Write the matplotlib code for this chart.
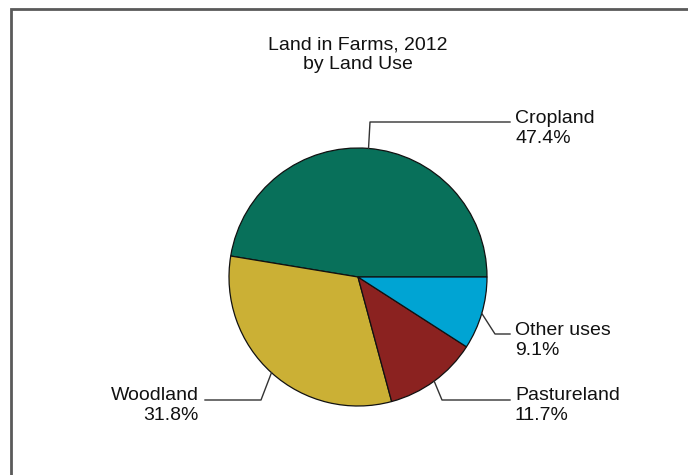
import matplotlib
matplotlib.use("Agg")
import matplotlib.pyplot as plt
import numpy as np

plt.rcParams['font.family'] = ['Liberation Sans', 'DejaVu Sans']

categories = ["Cropland", "Woodland", "Pastureland", "Other uses"]
shares = [47.4, 31.8, 11.7, 9.1]
colors = ["#08705A", "#CBB035", "#8B2220", "#00A4D3"]
title_lines = ["Land in Farms, 2012", "by Land Use"]

W, H = 688, 475
fig = plt.figure(figsize=(W / 100, H / 100), dpi=100)
ax = fig.add_axes([0, 0, 1, 1])

def Y(y):
    return H - y

cx, cy, r = 358, 277, 129
wedges, _ = ax.pie(shares, colors=colors, startangle=0, counterclock=True,
                   center=(cx, Y(cy)), radius=r,
                   wedgeprops=dict(edgecolor="#111111", linewidth=0.9))

ax.set_xlim(0, W)
ax.set_ylim(0, H)
ax.set_aspect('equal')
ax.axis('off')

# frame
ax.plot([11, 11, W + 5], [Y(H + 5), Y(8.5), Y(8.5)], color="#5a5a5a", lw=2.0,
        solid_joinstyle='miter', clip_on=False)

# title
fs = 14
ax.text(358, Y(50), title_lines[0], ha='center', va='baseline', fontsize=fs, color="#111111")
ax.text(358, Y(69), title_lines[1], ha='center', va='baseline', fontsize=fs, color="#111111")

# leader layout: elbow, end, text x, alignment, baselines
layout = {
    "Cropland": ((370, 122), (510, 122), 515, 'left', (123, 143)),
    "Woodland": ((261, 400), (205, 400), 199, 'right', (400, 420)),
    "Pastureland": ((442, 400), (510, 400), 515, 'left', (400, 420)),
    "Other uses": ((495, 334), (510, 334), 515, 'left', (335, 355)),
}

for w, cat, val in zip(wedges, categories, shares):
    mid = np.deg2rad((w.theta1 + w.theta2) / 2)
    ax_x = cx + r * np.cos(mid)
    ax_y = cy - r * np.sin(mid)
    (ex, ey), (tx, ty), lx, ha, (b1, b2) = layout[cat]
    ax.plot([ax_x, ex, tx], [Y(ax_y), Y(ey), Y(ty)], color="#333333", lw=1.0)
    ax.text(lx, Y(b1), cat, ha=ha, va='baseline', fontsize=fs, color="#111111")
    ax.text(lx, Y(b2), f"{val:.1f}%", ha=ha, va='baseline', fontsize=fs, color="#111111")

fig.savefig("out.png", dpi=100)
